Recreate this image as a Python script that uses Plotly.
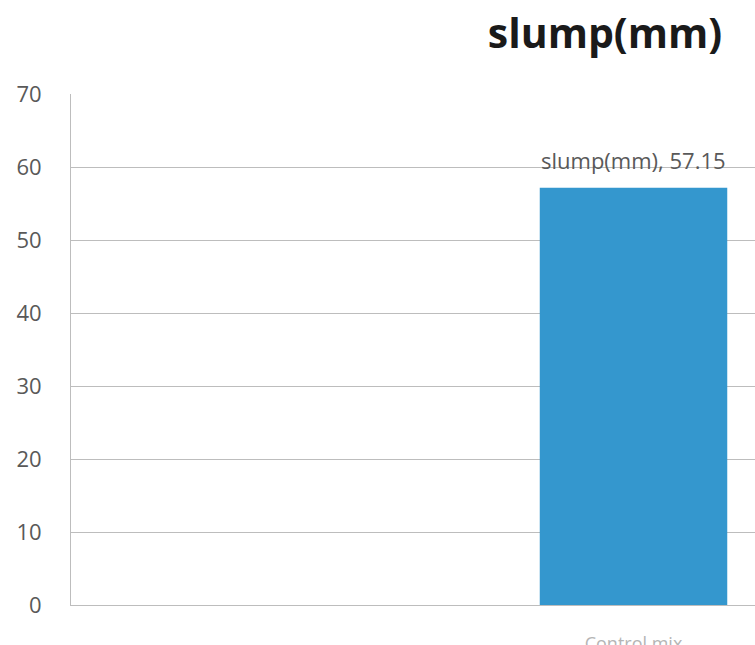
import plotly.graph_objects as go

# Chart data
categories = ["Mix A", "Control mix", "Mix C"]
series_name = "slump(mm)"
slump_values = [None, 57.15, None]
y_ticks = [0, 10, 20, 30, 40, 50, 60, 70]

W, H = 755, 680
grid_col = "#BDBDBD"
text_col = "#595959"

# only categories that carry a value get an axis label
labelled = [c for c, v in zip(categories, slump_values) if v is not None]

fig = go.Figure()
fig.add_trace(go.Bar(
    x=categories,
    y=slump_values,
    name=series_name,
    marker=dict(color="#3497CE", line=dict(width=0)),
    width=0.5,
))

# data label: series name and value above the bar
for cat, val in zip(categories, slump_values):
    if val is None:
        continue
    fig.add_annotation(
        x=cat, y=val, text=f"{series_name}, {val:g}",
        showarrow=False, yanchor="middle", yshift=28,
        font=dict(family="Open Sans", size=22, color=text_col),
    )

fig.update_layout(
    width=W, height=H,
    margin=dict(l=71, r=0, t=94, b=H - 94 - 511),
    paper_bgcolor="white", plot_bgcolor="white",
    showlegend=False,
    title=dict(
        text="<b>slump(mm)</b>",
        x=605 / W, xref="container", xanchor="center",
        y=1 - 34 / H, yref="container", yanchor="middle",
        font=dict(family="Open Sans", size=41, color="#1a1a1a"),
    ),
    xaxis=dict(
        type="category",
        categoryarray=categories, categoryorder="array",
        range=[-0.5, -0.5 + (W - 71) / 375],
        tickvals=labelled, ticktext=labelled,
        showgrid=False,
        showline=True, linecolor=grid_col, linewidth=1,
        ticks="", ticklabelstandoff=22,
        tickfont=dict(family="Open Sans", size=18, color="#b5b5b5"),
    ),
    yaxis=dict(
        range=[0, 70],
        tickvals=y_ticks,
        showgrid=True, gridcolor=grid_col, gridwidth=1,
        zeroline=False,
        showline=True, linecolor=grid_col, linewidth=1,
        ticks="", ticklabelstandoff=24,
        tickfont=dict(family="Open Sans", size=22, color=text_col),
    ),
    font=dict(family="Open Sans", color=text_col),
)

fig.write_html("out.html")
